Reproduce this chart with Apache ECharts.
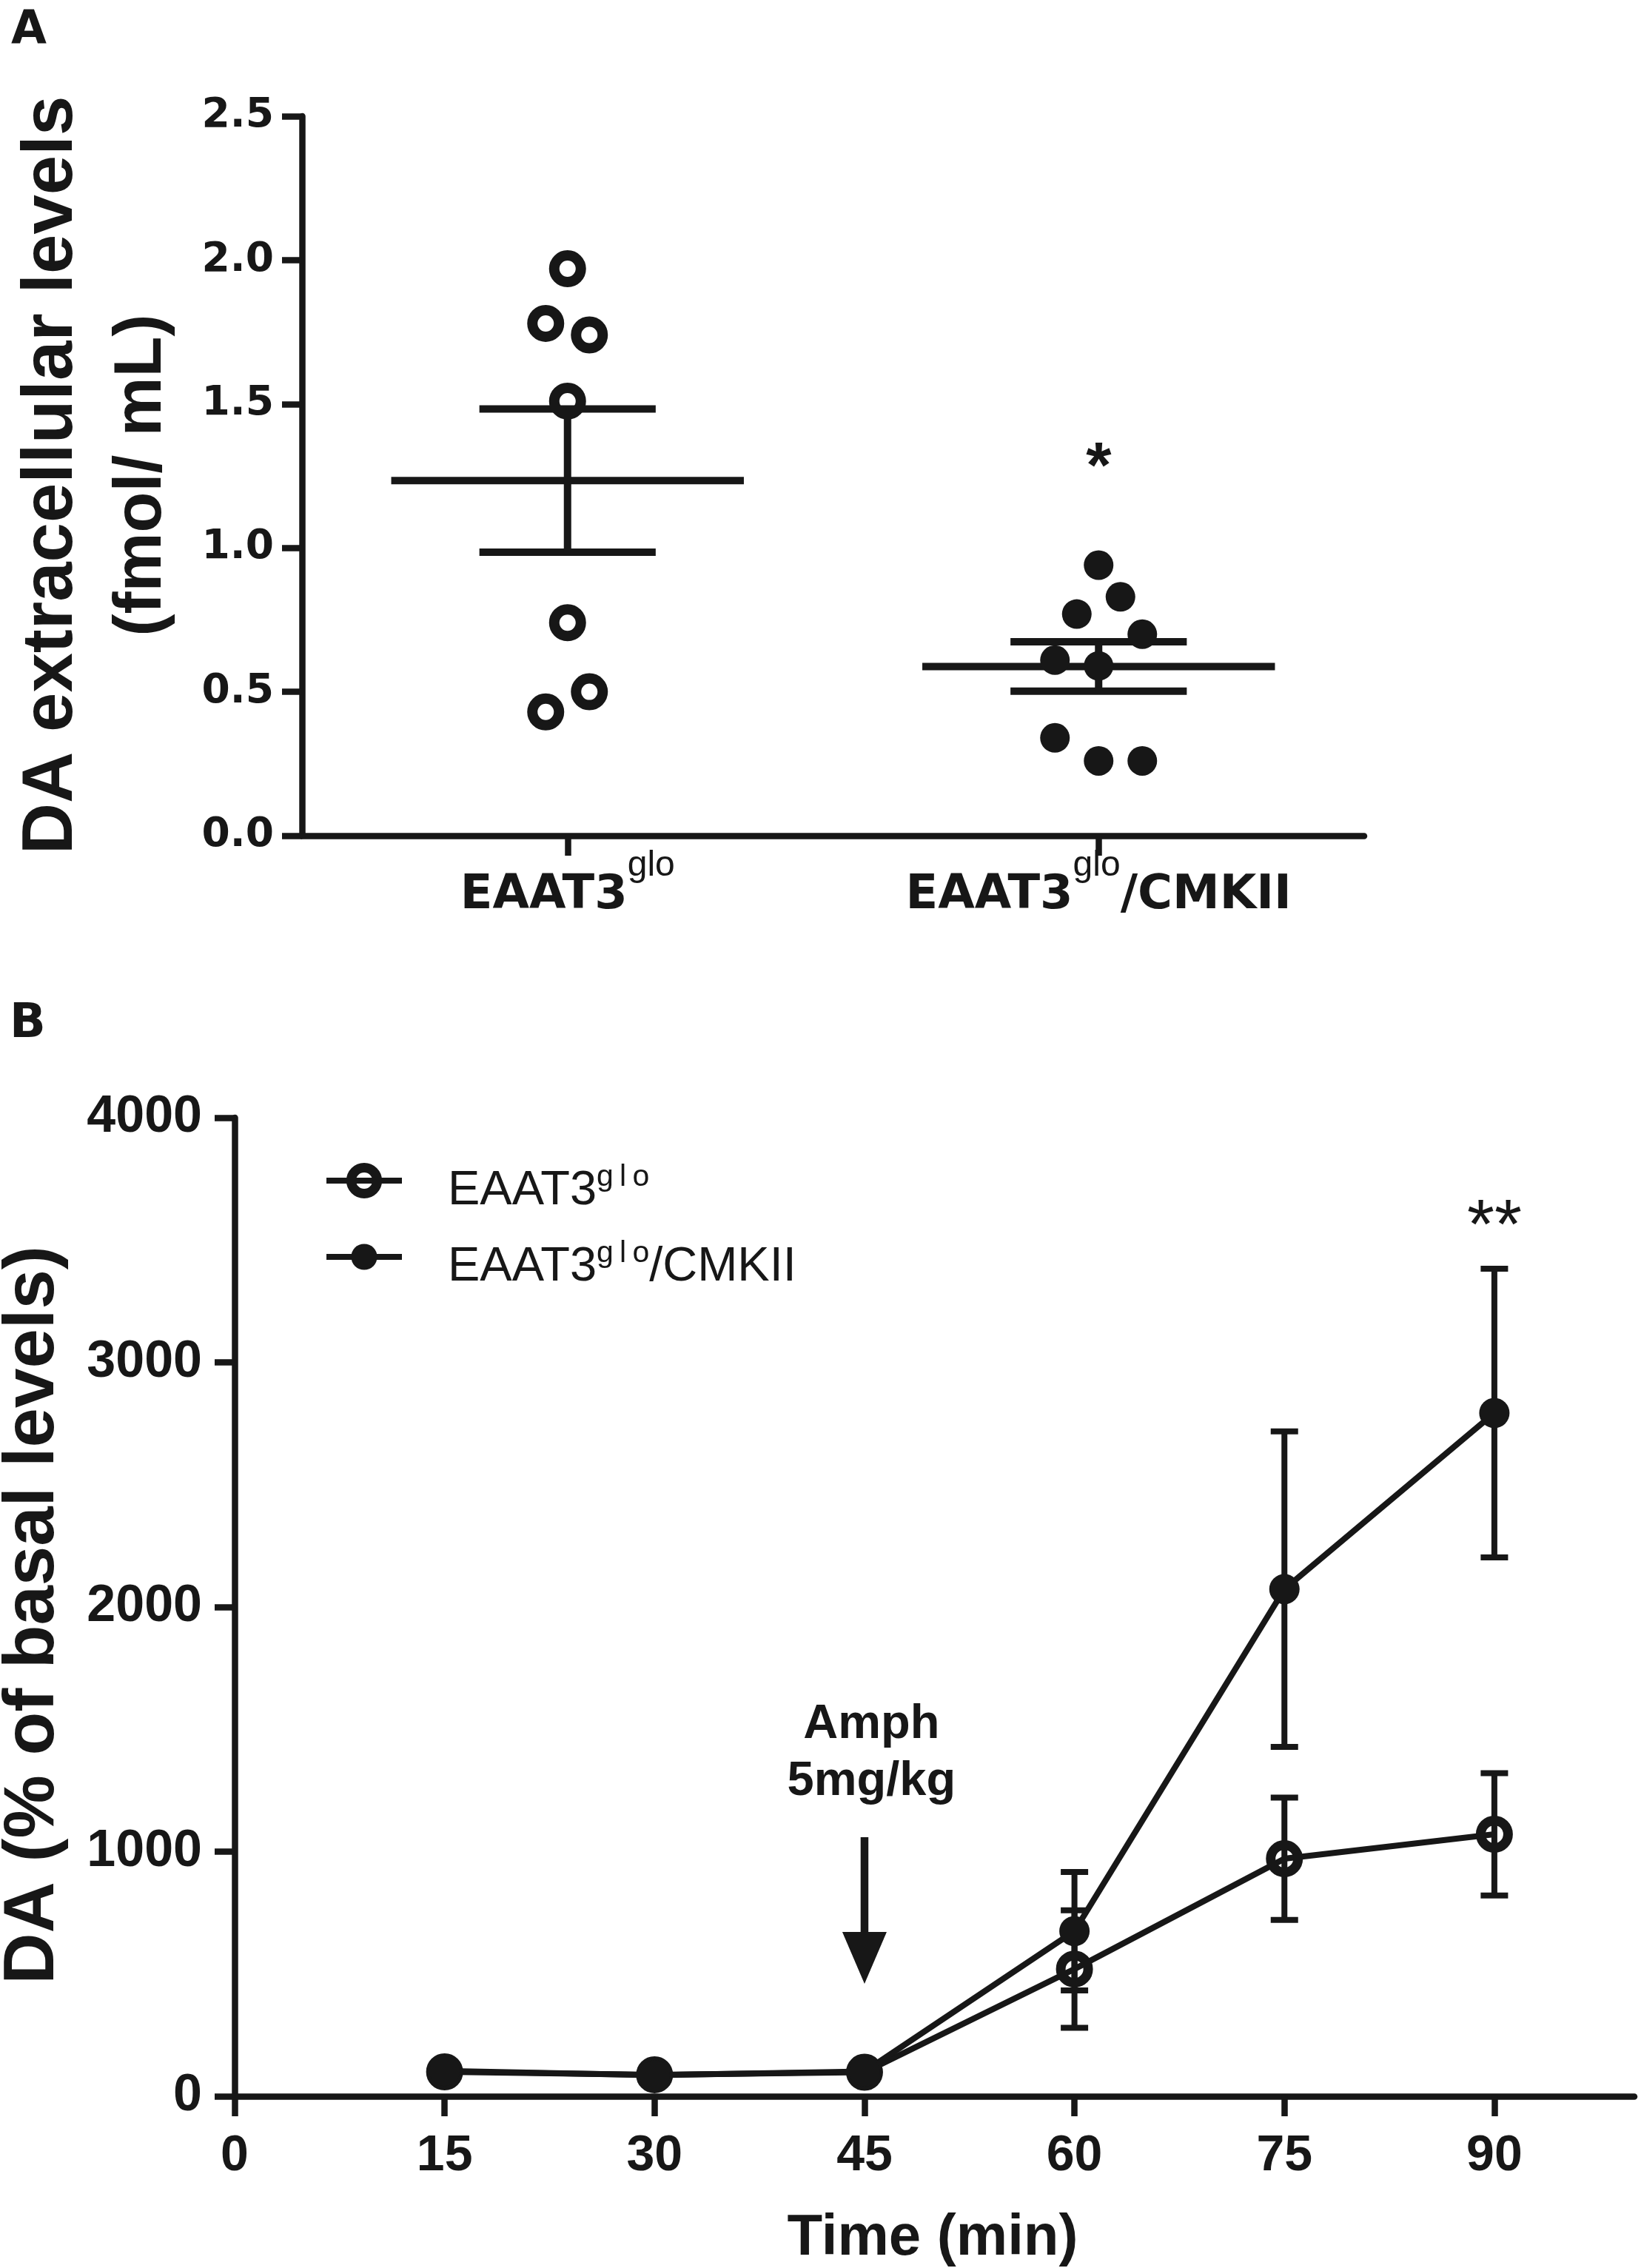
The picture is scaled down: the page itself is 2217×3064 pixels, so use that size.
<!DOCTYPE html>
<html>
<head>
<meta charset="utf-8">
<script src="https://cdn.jsdelivr.net/npm/echarts@6/dist/echarts.min.js"></script>
<style>
html, body { margin: 0; padding: 0; background: #fff; }
#main { width: 2217px; height: 3064px; }
</style>
</head>
<body>
<div id="main"></div>
<script>
// ---- panel A : scatter with mean +/- SEM ----
const groupsA = ['EAAT3glo', 'EAAT3glo/CMKII'];
const valuesGloA = [1.97, 1.78, 1.74, 1.51, 0.74, 0.43, 0.50];
const slotGloA = [0, -1, 1, 0, 0, -1, 1];          // dot column inside the group
const valuesCmkA = [0.94, 0.83, 0.77, 0.70, 0.61, 0.59, 0.34, 0.26, 0.26];
const slotCmkA = [0, 1, -1, 2, -2, 0, -2, 0, 2];
const meanA = [1.234, 0.588];
const semA = [0.249, 0.086];
const yTicksA = [0, 0.5, 1.0, 1.5, 2.0, 2.5];

// ---- panel B : time course ----
const timesB = [15, 30, 45, 60, 75, 90];
const meanGlo = [100, 88, 98, 520, 971, 1071];
const semGlo = [15, 12, 12, 240, 250, 250];
const meanCmk = [104, 86, 101, 675, 2073, 2793];
const semCmk = [18, 14, 16, 242, 645, 590];
const xTicksB = [0, 15, 30, 45, 60, 75, 90];

// annotation anchors (data units)
const starA = [1, 1.31];
const starsB = [90, 3592];
const amphB = [45.5, 1402];
const arrowB = { x: 45, top: 1059, head: 672, tip: 460 };

const ink = '#171717';
const SLOT = 29.5;

const chart = echarts.init(document.getElementById('main'));

function supText(s) {
  return '{b|' + s.replace('glo', '}{s|glo}{b|') + '}';
}
function supLegend(s) {
  return '{n|' + s.replace('glo', '}{s|g\u2009l\u2009o}{n|') + '}';
}

function meanSem(params, api) {
  const i = api.value(0), m = api.value(1), s = api.value(2);
  const band = api.size([1, 0])[0];
  const c = api.coord([i, m]), hi = api.coord([i, m + s]), lo = api.coord([i, m - s]);
  const wm = band * 0.332, ws = band * 0.166;
  const st = { stroke: ink, lineWidth: 10 };
  return {
    type: 'group',
    children: [
      { type: 'line', shape: { x1: c[0] - wm, y1: c[1], x2: c[0] + wm, y2: c[1] }, style: st },
      { type: 'line', shape: { x1: c[0] - ws, y1: hi[1], x2: c[0] + ws, y2: hi[1] }, style: st },
      { type: 'line', shape: { x1: c[0] - ws, y1: lo[1], x2: c[0] + ws, y2: lo[1] }, style: st },
      { type: 'line', shape: { x1: c[0], y1: hi[1], x2: c[0], y2: lo[1] }, style: st }
    ]
  };
}

function errBar(params, api) {
  const x = api.value(0);
  const lo = api.coord([x, api.value(1)]), hi = api.coord([x, api.value(2)]);
  const cap = 18.5;
  const st = { stroke: ink, lineWidth: 8 };
  return {
    type: 'group',
    children: [
      { type: 'line', shape: { x1: hi[0], y1: hi[1], x2: lo[0], y2: lo[1] }, style: st },
      { type: 'line', shape: { x1: hi[0] - cap, y1: hi[1], x2: hi[0] + cap, y2: hi[1] }, style: st },
      { type: 'line', shape: { x1: lo[0] - cap, y1: lo[1], x2: lo[0] + cap, y2: lo[1] }, style: st }
    ]
  };
}

const axisLine = { show: true, lineStyle: { color: ink, width: 8.5 } };
const axisTick = { show: true, length: 27, lineStyle: { color: ink, width: 8.5 } };

const openStyle = { color: 'rgba(0,0,0,0)', borderColor: ink, borderWidth: 13 };
const fillStyle = { color: ink, borderWidth: 0 };

const option = {
  backgroundColor: '#fff',
  animation: false,
  grid: [
    { left: 408, right: 374, top: 157, bottom: 1935, outerBoundsMode: 'none' },
    { left: 317, right: 9, top: 1510, bottom: 232, outerBoundsMode: 'none' }
  ],
  xAxis: [
    {
      type: 'category', gridIndex: 0, data: groupsA, boundaryGap: true,
      axisLine: axisLine,
      axisTick: Object.assign({ alignWithLabel: true, interval: 0 }, axisTick),
      axisLabel: {
        interval: 0, margin: 43, color: ink,
        formatter: supText,
        rich: {
          b: { fontFamily: 'DejaVu Sans', fontWeight: 'bold', fontSize: 64, lineHeight: 70, verticalAlign: 'bottom', color: ink },
          s: { fontFamily: 'Liberation Sans', fontSize: 48, lineHeight: 48, verticalAlign: 'bottom', padding: [0, 0, 48, 0], color: ink }
        }
      },
      splitLine: { show: false }
    },
    {
      type: 'value', gridIndex: 1, min: 0, max: 100, interval: 15,
      axisLine: axisLine,
      axisTick: Object.assign({ customValues: xTicksB }, axisTick),
      axisLabel: {
        customValues: xTicksB, margin: 47, color: ink,
        fontFamily: 'Liberation Sans', fontWeight: 'bold', fontSize: 68
      },
      splitLine: { show: false }
    }
  ],
  yAxis: [
    {
      type: 'value', gridIndex: 0, min: 0, max: 2.5, interval: 0.5,
      axisLine: axisLine, axisTick: axisTick,
      axisLabel: {
        customValues: yTicksA, margin: 38, color: ink,
        fontFamily: 'DejaVu Sans', fontWeight: 'bold', fontSize: 55,
        formatter: v => v.toFixed(1)
      },
      splitLine: { show: false }
    },
    {
      type: 'value', gridIndex: 1, min: 0, max: 4000, interval: 1000,
      axisLine: axisLine, axisTick: axisTick,
      axisLabel: {
        margin: 44, color: ink,
        fontFamily: 'Liberation Sans', fontWeight: 'bold', fontSize: 70,
        formatter: v => String(v)
      },
      splitLine: { show: false }
    }
  ],
  legend: {
    orient: 'vertical', left: 437, top: 1570, padding: 0,
    itemWidth: 102, itemHeight: 44, itemGap: 31,
    selectedMode: false,
    data: [
      { name: 'EAAT3glo', itemStyle: openStyle, lineStyle: { color: ink, width: 8 } },
      { name: 'EAAT3glo/CMKII', itemStyle: fillStyle, lineStyle: { color: ink, width: 8 } }
    ],
    formatter: supLegend,
    textStyle: {
      padding: [24, 0, 0, 57],
      rich: {
        n: { fontFamily: 'Liberation Sans', fontSize: 65, lineHeight: 70, verticalAlign: 'bottom', color: ink },
        s: { fontFamily: 'Liberation Sans', fontSize: 41, lineHeight: 41, verticalAlign: 'bottom', padding: [0, 0, 31, 0], color: ink }
      }
    }
  },
  series: [
    {
      type: 'custom', name: 'meanA', xAxisIndex: 0, yAxisIndex: 0, z: 2,
      renderItem: meanSem,
      data: groupsA.map((g, i) => [i, meanA[i], semA[i]])
    },
    {
      type: 'scatter', name: 'gloA', xAxisIndex: 0, yAxisIndex: 0, z: 3,
      symbol: 'circle', symbolSize: 36,
      itemStyle: { color: 'rgba(0,0,0,0)', borderColor: ink, borderWidth: 14, opacity: 1 },
      data: valuesGloA.map((v, i) => ({ value: [0, v], symbolOffset: [slotGloA[i] * SLOT, 0] }))
    },
    {
      type: 'scatter', name: 'cmkA', xAxisIndex: 0, yAxisIndex: 0, z: 3,
      symbol: 'circle', symbolSize: 40,
      itemStyle: { color: ink, opacity: 1 },
      data: valuesCmkA.map((v, i) => ({ value: [1, v], symbolOffset: [slotCmkA[i] * SLOT, 0] }))
    },
    {
      type: 'custom', name: 'errGlo', xAxisIndex: 1, yAxisIndex: 1, z: 2,
      renderItem: errBar,
      data: timesB.map((t, i) => [t, meanGlo[i] - semGlo[i], meanGlo[i] + semGlo[i]])
    },
    {
      type: 'custom', name: 'errCmk', xAxisIndex: 1, yAxisIndex: 1, z: 2,
      renderItem: errBar,
      data: timesB.map((t, i) => [t, meanCmk[i] - semCmk[i], meanCmk[i] + semCmk[i]])
    },
    {
      type: 'line', name: 'EAAT3glo', xAxisIndex: 1, yAxisIndex: 1, z: 3,
      symbol: 'circle', symbolSize: 37, showAllSymbol: true,
      lineStyle: { color: ink, width: 8 },
      itemStyle: openStyle,
      data: timesB.map((t, i) => [t, meanGlo[i]])
    },
    {
      type: 'line', name: 'EAAT3glo/CMKII', xAxisIndex: 1, yAxisIndex: 1, z: 4,
      symbol: 'circle', symbolSize: 41, showAllSymbol: true,
      lineStyle: { color: ink, width: 8 },
      itemStyle: fillStyle,
      data: timesB.map((t, i) => [t, meanCmk[i]])
    }
  ]
};

chart.setOption(option);

// annotations placed through the axes' own scales
const pA = v => chart.convertToPixel({ xAxisIndex: 0, yAxisIndex: 0 }, v);
const pB = v => chart.convertToPixel({ xAxisIndex: 1, yAxisIndex: 1 }, v);

const sA = pA(starA);
const sB = pB(starsB);
const am = pB(amphB);
const aTop = pB([arrowB.x, arrowB.top]);
const aHead = pB([arrowB.x, arrowB.head]);
const aTip = pB([arrowB.x, arrowB.tip]);

chart.setOption({
  graphic: [
    { type: 'text', x: 15, y: 42, style: { text: 'A', font: 'bold 62px "DejaVu Sans"', fill: ink, align: 'left', verticalAlign: 'middle' } },
    { type: 'text', x: 13, y: 1384, style: { text: 'B', font: 'bold 64px "DejaVu Sans"', fill: ink, align: 'left', verticalAlign: 'middle' } },
    { type: 'text', x: 71, y: 642, rotation: Math.PI / 2,
      style: { text: 'DA extracellular levels', font: 'bold 96px "Liberation Sans"', fill: ink, align: 'center', verticalAlign: 'middle' } },
    { type: 'text', x: 192, y: 642, rotation: Math.PI / 2,
      style: { text: '(fmol/ mL)', font: 'bold 90px "Liberation Sans"', fill: ink, align: 'center', verticalAlign: 'middle' } },
    { type: 'text', x: 46, y: 2182, rotation: Math.PI / 2,
      style: { text: 'DA (% of basal levels)', font: 'bold 96px "Liberation Sans"', fill: ink, align: 'center', verticalAlign: 'middle' } },
    { type: 'text', x: 1260, y: 3024,
      style: { text: 'Time (min)', font: 'bold 78px "Liberation Sans"', fill: ink, align: 'center', verticalAlign: 'middle' } },
    { type: 'text', x: sA[0], y: sA[1] + 14,
      style: { text: '*', font: 'bold 88px "Liberation Sans"', fill: ink, align: 'center', verticalAlign: 'middle' } },
    { type: 'text', x: sB[0], y: sB[1] + 15,
      style: { text: '**', font: '95px "Liberation Sans"', fill: ink, align: 'center', verticalAlign: 'middle' } },
    { type: 'text', x: am[0], y: am[1],
      style: { text: 'Amph\n5mg/kg', font: 'bold 65px "Liberation Sans"', lineHeight: 77, fill: ink, align: 'center', verticalAlign: 'middle' } },
    { type: 'line', shape: { x1: aTop[0], y1: aTop[1], x2: aHead[0], y2: aHead[1] + 4 }, style: { stroke: ink, lineWidth: 10.5 } },
    { type: 'polygon', shape: { points: [[aHead[0] - 30, aHead[1]], [aHead[0] + 30, aHead[1]], [aTip[0], aTip[1]]] }, style: { fill: ink } }
  ]
});
</script>
</body>
</html>
